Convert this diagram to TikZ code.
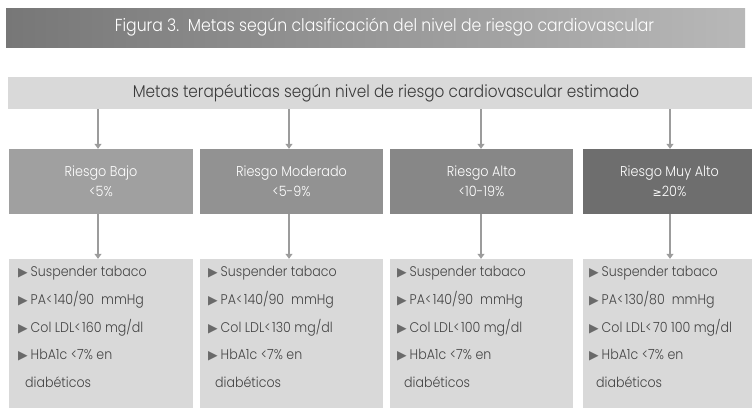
\documentclass[tikz,border=0pt]{standalone}
\usepackage{fontspec}
\setmainfont{Poppins}[UprightFont={* Light},FakeStretch=0.9]
\newfontfamily\symfont{DejaVu Sans}
\usetikzlibrary{arrows.meta}
\definecolor{titleL}{HTML}{777777}
\definecolor{titleR}{HTML}{B8B8B8}
\definecolor{barfill}{HTML}{D9D9D9}
\definecolor{rOne}{HTML}{A0A0A0}
\definecolor{rTwo}{HTML}{929292}
\definecolor{rThree}{HTML}{878787}
\definecolor{rFour}{HTML}{6E6E6E}
\definecolor{arrcol}{HTML}{9C9C9C}
\definecolor{txtdark}{HTML}{3A3A3A}
\definecolor{txtlist}{HTML}{444444}
\definecolor{bulcol}{HTML}{6A6A6A}
\newcommand{\itm}{\makebox[12.5pt][l]{\raisebox{0pt}{\symfont\fontsize{12.5}{12.5}\selectfont\color{bulcol}▶}}}
\newcommand{\ind}{\hspace*{7pt}}
\newcommand{\lt}{<\hspace{1.5pt}}
\begin{document}
\begin{tikzpicture}[x=1pt,y=-1pt,
  titlebar/.style={minimum width=739pt,minimum height=39pt,inner sep=0pt,
    left color=titleL,right color=titleR,text=white,
    font=\fontsize{17.4}{20}\selectfont},
  headbar/.style={fill=barfill,minimum width=744pt,minimum height=32pt,inner sep=0pt,
    text=txtdark,font=\fontsize{17}{20}\selectfont},
  riskbox/.style={minimum height=65pt,inner sep=0pt,text=white,align=center,
    font=\fontsize{14.2}{20}\selectfont},
  listbox/.style={fill=barfill,minimum height=151pt,inner sep=0pt},
  listtext/.style={anchor=north west,inner sep=0pt,align=left,text=txtlist,
    font=\fontsize{14}{27.8}\selectfont},
  arr/.style={draw=arrcol,line width=1.6pt,-{Triangle[width=7pt,length=5pt]}}]
\useasboundingbox (0,0) rectangle (752,407);
\node[titlebar] (title) at (375.5,27.5) {\hspace*{18pt}Figura 3.\ \ Metas según clasificación del nivel de riesgo cardiovascular};
\node[headbar] (hdr) at (380,93) {\hspace*{12pt}Metas terapéuticas según nivel de riesgo cardiovascular estimado};
% risk boxes
\node[riskbox,fill=rOne,minimum width=184pt] (r1) at (101,181.5) {Riesgo Bajo\\<5\%};
\node[riskbox,fill=rTwo,minimum width=183pt] (r2) at (291.5,181.5) {Riesgo Moderado\\<5-9\%};
\node[riskbox,fill=rThree,minimum width=183pt] (r3) at (481.5,181.5) {Riesgo Alto\\<10-19\%};
\node[riskbox,fill=rFour,minimum width=173pt] (r4) at (669.5,181.5) {Riesgo Muy Alto\\{\symfont\fontsize{11}{11}\selectfont ≥}20\%};
% list boxes
\node[listbox,minimum width=184pt] (l1) at (101,334.5) {};
\node[listbox,minimum width=183pt] (l2) at (291.5,334.5) {};
\node[listbox,minimum width=183pt] (l3) at (481.5,334.5) {};
\node[listbox,minimum width=173pt] (l4) at (669.5,334.5) {};
% arrow columns
\coordinate (a1) at (98,0);
\coordinate (a2) at (289,0);
\coordinate (a3) at (481,0);
\coordinate (a4) at (670,0);
\foreach \i in {1,2,3,4}{
  \draw[arr] (hdr.south -| a\i) -- (r\i.north -| a\i);
  \draw[arr] (r\i.south -| a\i) -- (l\i.north -| a\i);
}
% list texts
\node[listtext] (t1) at (18,266) {\itm Suspender tabaco\\\itm PA\lt 140/90\ \ mmHg\\\itm Col LDL\lt 160\ mg/dl\\\itm HbA1c\ <7\%\ en\\\ind diabéticos};
\node[listtext] (t2) at (208,266) {\itm Suspender tabaco\\\itm PA\lt 140/90\ \ mmHg\\\itm Col LDL\lt 130\ mg/dl\\\itm HbA1c\ <7\%\ en\\\ind diabéticos};
\node[listtext] (t3) at (397,266) {\itm Suspender tabaco\\\itm PA\lt 140/90\ \ mmHg\\\itm Col LDL\lt 100\ mg/dl\\\itm HbA1c\ <7\%\ en\\\ind diabéticos};
\node[listtext] (t4) at (589,266) {\itm Suspender tabaco\\\itm PA\lt 130/80\ \ mmHg\\\itm Col LDL\lt 70 100\ mg/dl\\\itm HbA1c\ <7\%\ en\\\ind diabéticos};
\end{tikzpicture}
\end{document}
